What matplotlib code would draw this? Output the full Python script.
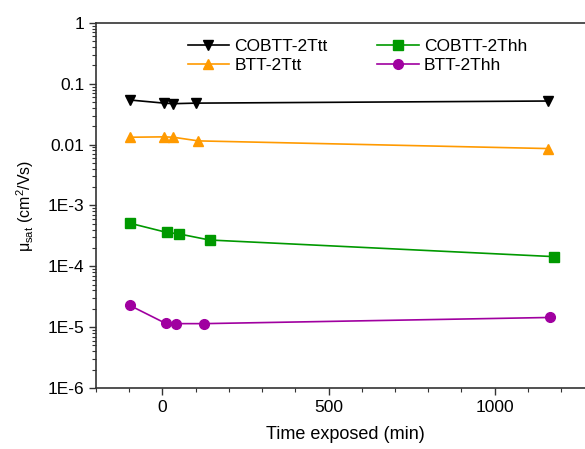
import matplotlib.pyplot as plt
from matplotlib.ticker import FixedLocator, FixedFormatter, LogLocator, MultipleLocator, NullFormatter

plt.rcParams['font.family'] = ['Liberation Sans', 'DejaVu Sans']
plt.rcParams['mathtext.default'] = 'regular'

# === Data ===
t_cobtt_ttt = [-97, 5, 32, 100, 1160]
mu_cobtt_ttt = [0.054, 0.048, 0.047, 0.048, 0.052]

t_btt_ttt = [-97, 5, 33, 108, 1160]
mu_btt_ttt = [0.0132, 0.0134, 0.0132, 0.0115, 0.0086]

t_cobtt_thh = [-98, 13, 50, 142, 1178]
mu_cobtt_thh = [5.1e-4, 3.6e-4, 3.4e-4, 2.7e-4, 1.44e-4]

t_btt_thh = [-98, 10, 40, 125, 1167]
mu_btt_thh = [2.27e-5, 1.15e-5, 1.14e-5, 1.14e-5, 1.44e-5]

ytick_vals = [1, 0.1, 0.01, 1e-3, 1e-4, 1e-5, 1e-6]
ytick_labels = ["1", "0.1", "0.01", "1E-3", "1E-4", "1E-5", "1E-6"]

# === Plot ===
fig = plt.figure(figsize=(5.85, 4.49), dpi=100)
ax = fig.add_axes([0.164, 0.136, 0.852, 0.813])

# order chosen so the 2-column legend reads row-wise like the original
ax.plot(t_cobtt_ttt, mu_cobtt_ttt, color="black", marker="v", markersize=7.5,
        linewidth=1.2, label="COBTT-2Ttt")
ax.plot(t_btt_ttt, mu_btt_ttt, color="#FF9A00", marker="^", markersize=7.5,
        linewidth=1.2, label="BTT-2Ttt")
ax.plot(t_cobtt_thh, mu_cobtt_thh, color="#009900", marker="s", markersize=6.5,
        linewidth=1.2, label="COBTT-2Thh")
ax.plot(t_btt_thh, mu_btt_thh, color="#A000A0", marker="o", markersize=7,
        linewidth=1.2, label="BTT-2Thh")

ax.set_yscale("log")
ax.set_ylim(1e-6, 1)
ax.set_xlim(-200, 1300)

ax.yaxis.set_major_locator(FixedLocator(ytick_vals))
ax.yaxis.set_major_formatter(FixedFormatter(ytick_labels))
ax.yaxis.set_minor_locator(LogLocator(base=10, subs=range(2, 10), numticks=20))
ax.yaxis.set_minor_formatter(NullFormatter())

ax.set_xticks([0, 500, 1000])
ax.xaxis.set_minor_locator(MultipleLocator(100))

ax.tick_params(which="major", direction="out", length=5, width=1, labelsize=12.5, colors="#333333",
               labelcolor="black")
ax.tick_params(which="minor", direction="out", length=3, width=0.8, colors="#333333")

for side in ["left", "bottom", "top"]:
    ax.spines[side].set_color("#333333")
    ax.spines[side].set_linewidth(1.2)
ax.spines["right"].set_visible(False)

ax.set_xlabel("Time exposed (min)", fontsize=13, labelpad=8)
ax.set_ylabel("μ$_{sat}$ (cm$^2$/Vs)", fontsize=11.5, labelpad=8)

# legend: two columns, no frame
ax.legend(ncol=2, frameon=False, fontsize=12.5, loc="upper left",
          bbox_to_anchor=(0.17, 0.975), handlelength=2.4, handletextpad=0.3,
          columnspacing=2.85, labelspacing=0.22, borderaxespad=0)

fig.savefig("out.png", dpi=100)
print("Saved plot as out.png")
